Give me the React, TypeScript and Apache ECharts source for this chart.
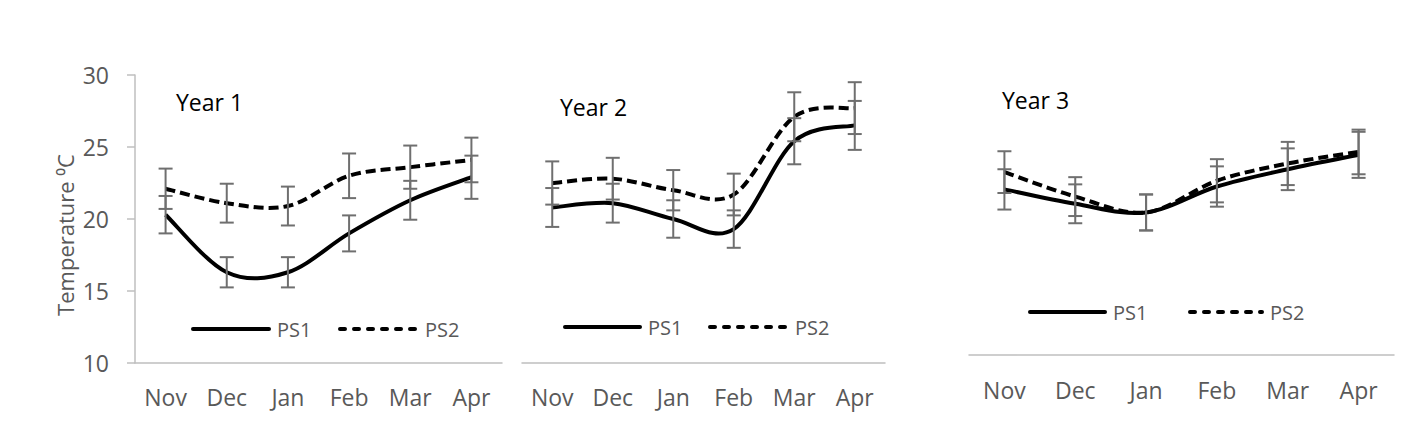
import React, { useEffect, useRef } from "react";
import * as echarts from "echarts";

const months = ["Nov", "Dec", "Jan", "Feb", "Mar", "Apr"];
const yMin = 10;
const yMax = 30;
const yStep = 5;

const titles = ["Year 1", "Year 2", "Year 3"];
const seriesNames = ["PS1", "PS2"];

const y1PS1 = [20.3, 16.3, 16.3, 19.0, 21.3, 22.9];
const y1PS1Err = [1.3, 1.05, 1.05, 1.25, 1.35, 1.5];
const y1PS2 = [22.1, 21.1, 20.9, 23.0, 23.6, 24.1];
const y1PS2Err = [1.4, 1.35, 1.35, 1.55, 1.5, 1.55];

const y2PS1 = [20.8, 21.1, 20.0, 19.3, 25.4, 26.5];
const y2PS1Err = [1.35, 1.35, 1.3, 1.3, 1.6, 1.7];
const y2PS2 = [22.5, 22.8, 22.0, 21.7, 27.1, 27.7];
const y2PS2Err = [1.5, 1.45, 1.4, 1.45, 1.7, 1.8];

const y3PS1 = [21.5, 20.5, 19.9, 21.7, 22.9, 23.9];
const y3PS1Err = [1.4, 1.35, 1.25, 1.4, 1.45, 1.6];
const y3PS2 = [22.7, 21.0, 19.9, 22.1, 23.3, 24.1];
const y3PS2Err = [1.45, 1.35, 1.25, 1.5, 1.5, 1.55];

const FONT = "'Open Sans', 'Noto Sans', sans-serif";
const GRAY = "#595959";
const AXIS = "#bfbfbf";
const ERR = "#6f6f6f";

const panels = [
  { ps1: y1PS1, e1: y1PS1Err, ps2: y1PS2, e2: y1PS2Err },
  { ps1: y2PS1, e1: y2PS1Err, ps2: y2PS2, e2: y2PS2Err },
  { ps1: y3PS1, e1: y3PS1Err, ps2: y3PS2, e2: y3PS2Err },
];

const grids = [
  { left: 135, top: 75, width: 367, height: 288 },
  { left: 522, top: 75, width: 363, height: 288 },
  { left: 969, top: 67, width: 425, height: 288 },
];

// legend layout: [solid start, solid end, text1 x, dashed start, dashed end, text2 x, y]
const legendPos = [
  [193, 269, 277, 340, 417, 425, 329],
  [565, 640, 648, 710, 787, 795, 327],
  [1030, 1105, 1113, 1190, 1262, 1270, 312],
];

const titlePos = [
  { x: 176, y: 102 },
  { x: 560, y: 107 },
  { x: 1002, y: 100 },
];

function errRender(params: any, api: any) {
  const x = api.value(0);
  const lo = api.coord([x, api.value(1)]);
  const hi = api.coord([x, api.value(2)]);
  const w = 7;
  const style = { stroke: ERR, lineWidth: 2 };
  return {
    type: "group",
    children: [
      { type: "line", shape: { x1: lo[0], y1: lo[1], x2: hi[0], y2: hi[1] }, style },
      { type: "line", shape: { x1: lo[0] - w, y1: lo[1], x2: lo[0] + w, y2: lo[1] }, style },
      { type: "line", shape: { x1: hi[0] - w, y1: hi[1], x2: hi[0] + w, y2: hi[1] }, style },
    ],
  };
}

// Excel-like smoothed line (Catmull-Rom bezier), drawn once for the whole series
function curveRender(values: number[], dash: number[] | null) {
  return (params: any, api: any) => {
    if (params.dataIndex !== 0) return null;
    const pts = values.map((v, k) => api.coord([k, v]));
    const n = pts.length;
    let d = `M${pts[0][0]},${pts[0][1]}`;
    for (let i = 0; i < n - 1; i++) {
      const p0 = pts[Math.max(i - 1, 0)];
      const p1 = pts[i];
      const p2 = pts[i + 1];
      const p3 = pts[Math.min(i + 2, n - 1)];
      const c1x = p1[0] + (p2[0] - p0[0]) / 6;
      const c1y = p1[1] + (p2[1] - p0[1]) / 6;
      const c2x = p2[0] - (p3[0] - p1[0]) / 6;
      const c2y = p2[1] - (p3[1] - p1[1]) / 6;
      d += ` C${c1x},${c1y} ${c2x},${c2y} ${p2[0]},${p2[1]}`;
    }
    return {
      type: "path",
      shape: { pathData: d },
      style: {
        stroke: "#000",
        fill: "none",
        lineWidth: 4,
        lineDash: dash || undefined,
        lineCap: "butt",
        lineJoin: "round",
      },
    };
  };
}

export default function App() {
  const ref = useRef<HTMLDivElement>(null);
  useEffect(() => {
    if (!ref.current) return;
    const chart = echarts.init(ref.current, undefined, { renderer: "svg" });

    const xAxis = grids.map((_, i) => ({
      type: "category",
      gridIndex: i,
      data: months,
      axisLine: { show: true, lineStyle: { color: AXIS, width: 1.5 } },
      axisTick: { show: false },
      axisLabel: { color: GRAY, fontSize: 23, fontFamily: FONT, margin: i === 2 ? 23 : 22 },
      splitLine: { show: false },
    }));

    const yAxis = grids.map((_, i) => ({
      type: "value",
      gridIndex: i,
      min: yMin,
      max: yMax,
      interval: yStep,
      show: i === 0,
      axisLine: { show: true, lineStyle: { color: AXIS, width: 1.5 } },
      axisTick: { show: true, length: 8, lineStyle: { color: AXIS, width: 1.5 } },
      axisLabel: { color: GRAY, fontSize: 23, fontFamily: FONT, margin: 26 },
      splitLine: { show: false },
    }));

    const series: any[] = [];
    panels.forEach((p, i) => {
      const lines = [
        { name: seriesNames[0], vals: p.ps1, errs: p.e1, dash: null as number[] | null },
        { name: seriesNames[1], vals: p.ps2, errs: p.e2, dash: [10, 5] },
      ];
      lines.forEach((l) => {
        series.push({
          name: l.name,
          type: "custom",
          xAxisIndex: i,
          yAxisIndex: i,
          renderItem: curveRender(l.vals, l.dash),
          encode: { x: 0, y: 1 },
          data: l.vals.map((v, k) => [k, v]),
          clip: false,
          z: 3,
        });
        series.push({
          name: l.name + " error",
          type: "custom",
          xAxisIndex: i,
          yAxisIndex: i,
          renderItem: errRender,
          encode: { x: 0, y: [1, 2] },
          data: l.vals.map((v, k) => [k, v - l.errs[k], v + l.errs[k]]),
          z: 4,
        });
      });
    });

    const graphic: any[] = titles.map((t, i) => ({
      type: "text",
      x: titlePos[i].x,
      y: titlePos[i].y,
      style: {
        text: t,
        fill: "#000",
        font: `23px ${FONT}`,
        verticalAlign: "middle",
        align: "left",
      },
    }));
    graphic.push({
      type: "text",
      x: 65,
      y: 235,
      rotation: Math.PI / 2,
      style: {
        text: "Temperature ⁰C",
        fill: GRAY,
        font: `22px ${FONT}`,
        verticalAlign: "middle",
        align: "center",
      },
    });
    legendPos.forEach((lp) => {
      const [s1, e1, t1, s2, e2, t2, y] = lp;
      graphic.push({
        type: "line",
        shape: { x1: s1, y1: y, x2: e1, y2: y },
        style: { stroke: "#000", lineWidth: 4, lineCap: "round" },
      });
      graphic.push({
        type: "text",
        x: t1,
        y: y,
        style: { text: seriesNames[0], fill: GRAY, font: `20px ${FONT}`, verticalAlign: "middle" },
      });
      graphic.push({
        type: "line",
        shape: { x1: s2, y1: y, x2: e2, y2: y },
        style: { stroke: "#000", lineWidth: 4, lineCap: "round", lineDash: [5, 9] },
      });
      graphic.push({
        type: "text",
        x: t2,
        y: y,
        style: { text: seriesNames[1], fill: GRAY, font: `20px ${FONT}`, verticalAlign: "middle" },
      });
    });

    chart.setOption({
      animation: false,
      backgroundColor: "#fff",
      grid: grids,
      xAxis,
      yAxis,
      graphic,
      series,
    });
    return () => chart.dispose();
  }, []);
  return (
    <div
      ref={ref}
      style={{ position: "fixed", left: 0, top: 0, width: 1421, height: 432 }}
    />
  );
}
